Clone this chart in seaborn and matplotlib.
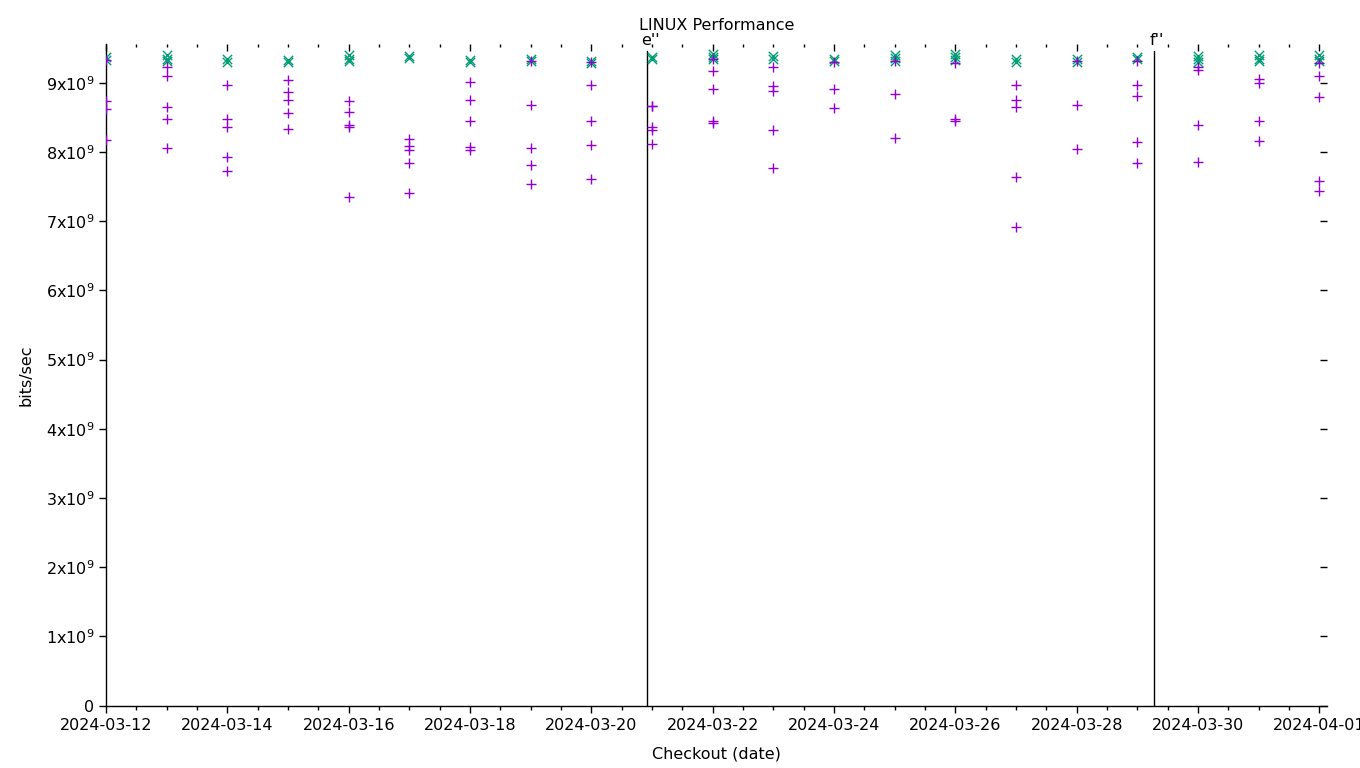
import matplotlib
matplotlib.use("Agg")
import matplotlib.pyplot as plt
import matplotlib.dates as mdates
from matplotlib.ticker import MultipleLocator, FuncFormatter
import seaborn as sns
import pandas as pd
import numpy as np

# ---- data ----
days = ["2024-03-12", "2024-03-13", "2024-03-14", "2024-03-15", "2024-03-16",
        "2024-03-17", "2024-03-18", "2024-03-19", "2024-03-20", "2024-03-21",
        "2024-03-22", "2024-03-23", "2024-03-24", "2024-03-25", "2024-03-26",
        "2024-03-27", "2024-03-28", "2024-03-29", "2024-03-30", "2024-03-31",
        "2024-04-01"]

# purple '+' series (units of 1e9 bits/sec)
plus_vals = [
    [9.33, 8.73, 8.62, 8.17],
    [9.23, 9.10, 8.65, 8.47, 8.06],
    [8.97, 8.48, 8.36, 7.93, 7.73],
    [9.04, 8.87, 8.75, 8.56, 8.33],
    [8.74, 8.58, 8.39, 8.36, 7.35],
    [8.19, 8.08, 8.03, 7.84, 7.41],
    [9.01, 8.75, 8.45, 8.07, 8.03],
    [9.31, 8.68, 8.06, 7.81, 7.54],
    [9.30, 8.97, 8.45, 8.10, 7.61],
    [8.67, 8.66, 8.36, 8.32, 8.12],
    [9.35, 9.17, 8.91, 8.44, 8.42],
    [9.23, 8.95, 8.88, 8.32, 7.77],
    [9.30, 8.91, 8.64],
    [9.31, 8.84, 8.20],
    [9.29, 8.48, 8.44],
    [8.97, 8.75, 8.65, 7.64, 6.91],
    [9.32, 8.68, 8.04],
    [9.32, 8.97, 8.81, 8.15, 7.84],
    [9.23, 9.18, 8.39, 7.86],
    [9.06, 9.00, 8.45, 8.16],
    [9.29, 9.10, 8.80, 7.58, 7.44],
]

# green 'x' series (units of 1e9 bits/sec)
cross_vals = [
    [9.37, 9.33],
    [9.40, 9.35, 9.32],
    [9.35, 9.30],
    [9.33, 9.30],
    [9.40, 9.35, 9.32],
    [9.38, 9.36],
    [9.33, 9.30],
    [9.35, 9.32],
    [9.32, 9.28],
    [9.37, 9.35],
    [9.42, 9.37, 9.34],
    [9.39, 9.35],
    [9.35, 9.32],
    [9.40, 9.36, 9.32],
    [9.42, 9.37, 9.33],
    [9.35, 9.30],
    [9.34, 9.30],
    [9.37, 9.35],
    [9.38, 9.34, 9.30],
    [9.40, 9.35, 9.31],
    [9.40, 9.35, 9.32],
]

markers_at = ["2024-03-20 22:00", "2024-03-29 06:40"]
marker_labels = ["e''", "f''"]

title = "LINUX Performance"
xlabel = "Checkout (date)"
ylabel = "bits/sec"

# ---- build frames ----
def frame(vals):
    rows = []
    for d, vs in zip(days, vals):
        for v in vs:
            rows.append((pd.Timestamp(d), v * 1e9))
    return pd.DataFrame(rows, columns=["date", "bps"])

df_plus = frame(plus_vals)
df_cross = frame(cross_vals)

sns.set_style("white")
plt.rcParams["font.family"] = ["DejaVu Sans"]
plt.rcParams["font.size"] = 11.5
for k in ["text.color", "axes.labelcolor", "xtick.color", "ytick.color"]:
    plt.rcParams[k] = "black"

fig = plt.figure(figsize=(13.6, 7.68), dpi=100)
ax = fig.add_axes([106 / 1360, 1 - 705.5 / 768, (1326.7 - 106) / 1360, (705.5 - 44) / 768])

sns.scatterplot(data=df_cross, x="date", y="bps", marker="x", color="#009e73",
                s=45, linewidth=1.0, ax=ax, zorder=3)
sns.scatterplot(data=df_plus, x="date", y="bps", marker="+", color="#9400d3",
                s=60, linewidth=1.0, ax=ax, zorder=4)

x0 = mdates.date2num(pd.Timestamp(days[0]))
x1 = mdates.date2num(pd.Timestamp(days[-1])) + 0.122
ax.set_xlim(x0, x1)
ax.set_ylim(0, 9.56e9)

ax.xaxis.set_major_locator(MultipleLocator(2))
ax.xaxis.set_minor_locator(MultipleLocator(0.5))
ax.xaxis.set_major_formatter(mdates.DateFormatter("%Y-%m-%d"))
ax.yaxis.set_major_locator(MultipleLocator(1e9))


def yfmt(v, pos):
    n = int(round(v / 1e9))
    if n == 0:
        return "0"
    return r"$\mathregular{%dx10}^{\mathregular{9}}$" % n


ax.yaxis.set_major_formatter(FuncFormatter(yfmt))

for side in ["top", "right"]:
    ax.spines[side].set_visible(False)
for side in ["left", "bottom"]:
    ax.spines[side].set_color("black")
    ax.spines[side].set_linewidth(1.0)

ax.tick_params(axis="x", which="major", direction="out", length=5, width=1,
               color="black", labelsize=11.5, pad=4, top=False)
ax.tick_params(axis="x", which="minor", direction="out", length=3, width=1,
               color="black", top=False, bottom=True)
ax.tick_params(axis="y", which="major", direction="out", length=5, width=1,
               color="black", labelsize=11.5, right=False)

ax.set_xlabel(xlabel, fontsize=11.5, labelpad=10)
ax.set_ylabel(ylabel, fontsize=11.5, labelpad=9)
ax.set_title(title, fontsize=11.5, pad=10)

# mirrored ticks (inward) on top and right
axt = ax.twiny()
axt.set_xlim(ax.get_xlim())
axt.xaxis.set_major_locator(MultipleLocator(2))
axt.xaxis.set_minor_locator(MultipleLocator(0.5))
axt.tick_params(axis="x", which="major", direction="in", length=5, width=1,
                color="black", top=True, bottom=False, labeltop=False, labelbottom=False)
axt.tick_params(axis="x", which="minor", direction="in", length=2.5, width=1,
                color="black", top=True, bottom=False)
for s in axt.spines.values():
    s.set_visible(False)

axr = ax.twinx()
axr.set_ylim(ax.get_ylim())
axr.yaxis.set_major_locator(MultipleLocator(1e9))
axr.tick_params(axis="y", which="major", direction="in", length=5, width=1,
                color="black", right=True, left=False, labelright=False, labelleft=False)
for s in axr.spines.values():
    s.set_visible(False)

# vertical marker lines with labels
for t, lab in zip(markers_at, marker_labels):
    xv = mdates.date2num(pd.Timestamp(t))
    ax.axvline(xv, ymin=0, ymax=0.99, color="black", linewidth=1.0, zorder=2)
    ax.text(xv + 0.05, 0.9985, lab, transform=ax.get_xaxis_transform(),
            ha="center", va="baseline", fontsize=11.5)

fig.savefig("out.png", dpi=100)
